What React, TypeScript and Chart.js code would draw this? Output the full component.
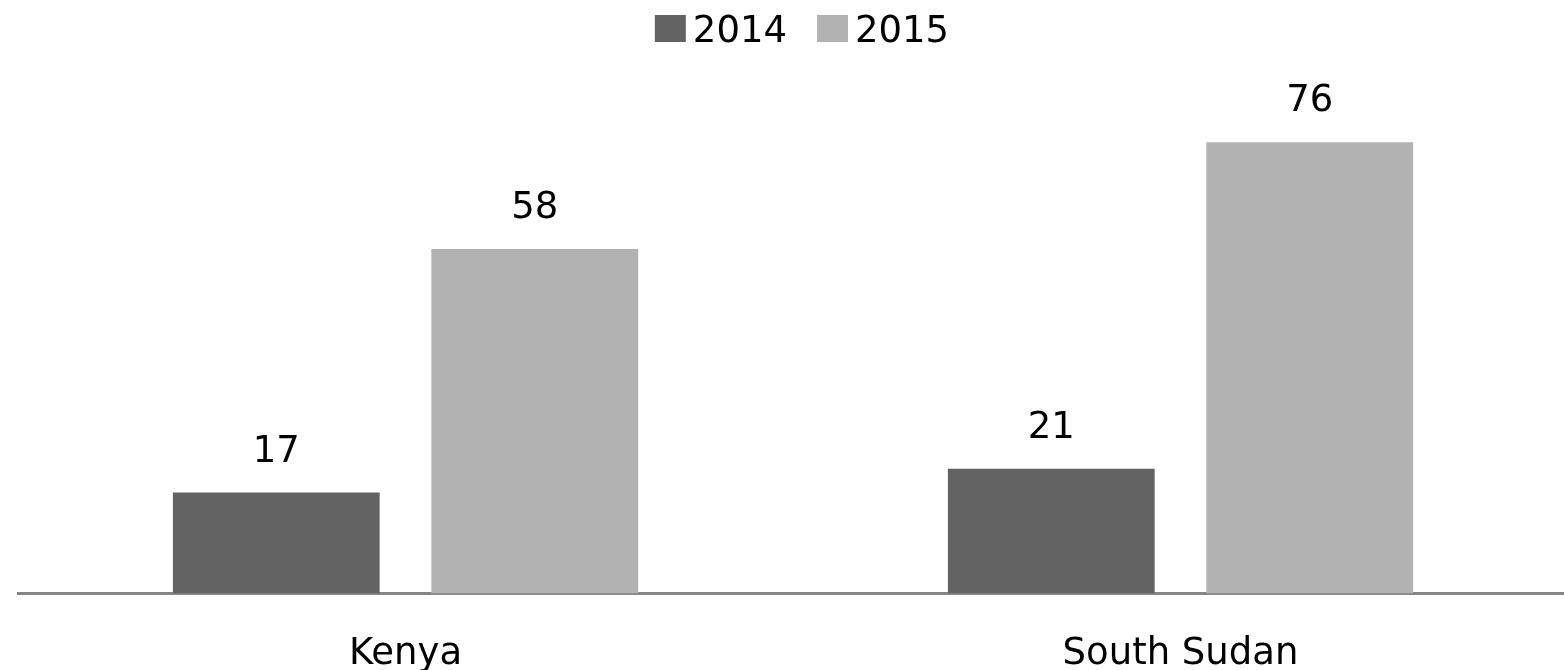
import React, { useEffect, useRef } from "react";
import { Chart, registerables } from "chart.js";

Chart.register(...registerables);

const categories = ["Kenya", "South Sudan"];
const seriesNames = ["2014", "2015"];
const values2014 = [17, 21];
const values2015 = [58, 76];
const colors = ["#636363", "#b2b2b2"];

const FONT = "DejaVu Sans";
const W = 1568;
const H = 716;

const labelPlugin = {
  id: "valueLabels",
  afterDatasetsDraw(chart: any) {
    const ctx = chart.ctx;
    ctx.save();
    ctx.font = `37px "${FONT}"`;
    ctx.fillStyle = "#000";
    ctx.textAlign = "center";
    ctx.textBaseline = "alphabetic";
    chart.data.datasets.forEach((ds: any, di: number) => {
      const meta = chart.getDatasetMeta(di);
      meta.data.forEach((bar: any, i: number) => {
        ctx.fillText(String(ds.data[i]), bar.x, bar.y - 31);
      });
    });
    ctx.restore();
  },
};

const legendPlugin = {
  id: "customLegend",
  afterDraw(chart: any) {
    const ctx = chart.ctx;
    ctx.save();
    ctx.font = `37px "${FONT}"`;
    ctx.textBaseline = "alphabetic";
    ctx.textAlign = "left";
    const boxW = 31, boxH = 27, gap = 7, itemGap = 30;
    const widths = seriesNames.map((n) => ctx.measureText(n).width);
    const total = widths.reduce((a, w) => a + boxW + gap + w, 0) + itemGap * (seriesNames.length - 1);
    let x = 802 - total / 2;
    seriesNames.forEach((n, i) => {
      ctx.fillStyle = colors[i];
      ctx.fillRect(x, 15, boxW, boxH);
      ctx.fillStyle = "#000";
      ctx.fillText(n, x + boxW + gap, 42);
      x += boxW + gap + widths[i] + itemGap;
    });
    ctx.restore();
  },
};

export default function App() {
  const ref = useRef<HTMLCanvasElement>(null);
  useEffect(() => {
    const chart = new Chart(ref.current!, {
      type: "bar",
      data: {
        labels: categories,
        datasets: [
          { label: seriesNames[0], data: values2014, backgroundColor: colors[0], categoryPercentage: 0.667, barPercentage: 0.8 },
          { label: seriesNames[1], data: values2015, backgroundColor: colors[1], categoryPercentage: 0.667, barPercentage: 0.8 },
        ],
      },
      options: {
        animation: false,
        responsive: false,
        maintainAspectRatio: false,
        layout: { padding: { top: 59, left: 18, right: 0, bottom: 0 } },
        plugins: { legend: { display: false }, tooltip: { enabled: false } },
        scales: {
          y: { display: false, min: 0, max: 90 },
          x: {
            grid: { display: false, drawTicks: false },
            border: { display: true, color: "#868686", width: 3 },
            ticks: { color: "#000", padding: 39, font: { family: FONT, size: 37, lineHeight: 1.2 } },
          },
        },
      },
      plugins: [labelPlugin, legendPlugin],
    });
    return () => chart.destroy();
  }, []);
  return (
    <div style={{ position: "fixed", left: 0, top: 0, width: W, height: H, background: "#fff" }}>
      <canvas ref={ref} width={W} height={H} style={{ width: W, height: H, display: "block" }} />
    </div>
  );
}
